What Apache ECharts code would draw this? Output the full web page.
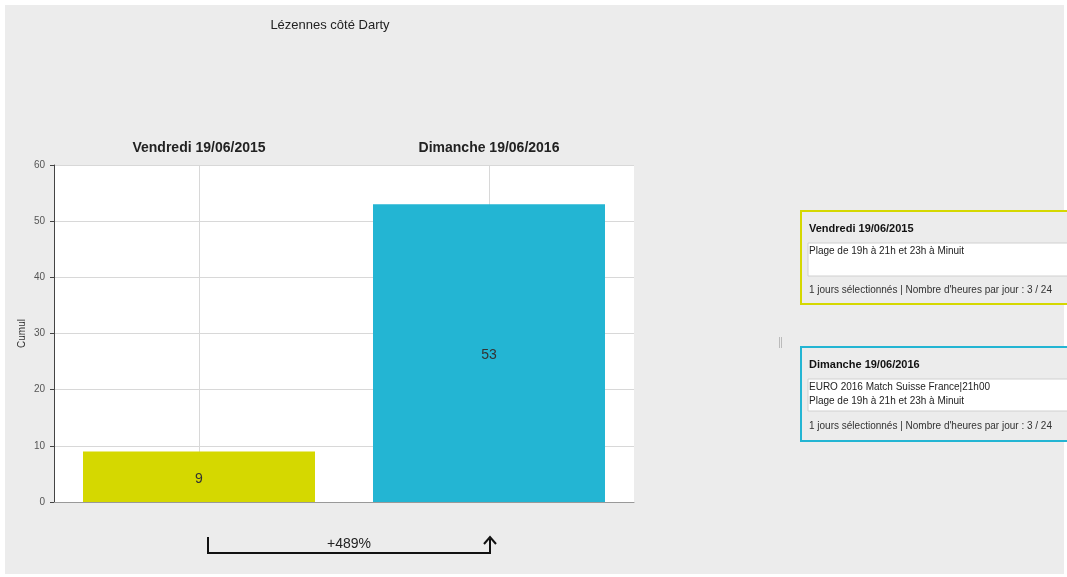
<!DOCTYPE html>
<html>
<head>
<meta charset="utf-8">
<script src="https://cdn.jsdelivr.net/npm/echarts@6/dist/echarts.min.js"></script>
<style>
html,body{margin:0;padding:0;background:#fff;}
#chart{width:1067px;height:577px;}
</style>
</head>
<body>
<div id="chart"></div>
<script>
// ---- data ----
const chartTitle = 'Lézennes côté Darty';
const categories = ['Vendredi 19/06/2015', 'Dimanche 19/06/2016'];
const values = [9, 53];
const yAxisName = 'Cumul';
const yTicks = [0, 10, 20, 30, 40, 50, 60];
const panelTitles = ['Vendredi 19/06/2015', 'Dimanche 19/06/2016'];
const panelNotes = [
  ['Plage de 19h à 21h et 23h à Minuit'],
  ['EURO 2016 Match Suisse France|21h00', 'Plage de 19h à 21h et 23h à Minuit']
];
const panelFooters = [
  '1 jours sélectionnés | Nombre d\'heures par jour : 3 / 24',
  '1 jours sélectionnés | Nombre d\'heures par jour : 3 / 24'
];

// ---- styles ----
const barColors = ['#d5d800', '#23b5d3'];
const FONT = '"Liberation Sans", Arial, sans-serif';

const pct = Math.round((values[1] - values[0]) / values[0] * 100);
const pctLabel = (pct >= 0 ? '+' : '') + pct + '%';

function panel(x, y, h, color, title, notes, footer, noteH) {
  const els = [];
  els.push({type: 'rect', shape: {x: x, y: y, width: 280, height: h},
    style: {fill: '#ececec', stroke: color, lineWidth: 2}});
  els.push({type: 'text', x: x + 8, y: y + 12, style: {text: title, font: 'bold 11px ' + FONT, fill: '#111'}});
  els.push({type: 'rect', shape: {x: x + 7, y: y + 32, width: 280, height: noteH},
    style: {fill: '#fff', stroke: '#d0d0d0', lineWidth: 1}});
  notes.forEach(function (t, i) {
    els.push({type: 'text', x: x + 8, y: y + 35 + i * 14, style: {text: t, font: '10px ' + FONT, fill: '#222'}});
  });
  els.push({type: 'text', x: x + 8, y: y + 74, style: {text: footer, font: '10px ' + FONT, fill: '#333'}});
  return els;
}

const chart = echarts.init(document.getElementById('chart'), null, {renderer: 'canvas'});

const graphics = [
  {type: 'rect', z: -100, shape: {x: 5, y: 5, width: 1059, height: 569}, style: {fill: '#ececec'}},
  // bracket arrow
  {type: 'polyline', shape: {points: [[208, 537], [208, 553], [490, 553], [490, 539]]},
    style: {stroke: '#111', lineWidth: 2, fill: null}},
  {type: 'polyline', shape: {points: [[484, 544], [490, 537], [496, 544]]},
    style: {stroke: '#111', lineWidth: 2, fill: null}},
  {type: 'text', x: 349, y: 544, style: {text: pctLabel, font: '14px ' + FONT, fill: '#222', align: 'center', verticalAlign: 'middle'}},
  // separator marks
  {type: 'rect', shape: {x: 779, y: 337, width: 1, height: 11}, style: {fill: '#bbb'}},
  {type: 'rect', shape: {x: 781, y: 337, width: 1, height: 11}, style: {fill: '#bbb'}}
].concat(
  panel(801, 211, 93, barColors[0], panelTitles[0], panelNotes[0], panelFooters[0], 33),
  panel(801, 347, 94, barColors[1], panelTitles[1], panelNotes[1], panelFooters[1], 32)
);

chart.setOption({
  animation: false,
  backgroundColor: '#fff',
  title: {
    text: chartTitle, left: 325, top: 14, textAlign: 'center',
    textStyle: {fontFamily: FONT, fontSize: 13, fontWeight: 'normal', color: '#222'}
  },
  grid: {left: 54, right: 433, top: 165, bottom: 75, show: true, backgroundColor: '#fff', borderWidth: 0},
  xAxis: [{
    type: 'category', data: categories, position: 'top',
    axisLine: {show: false}, axisTick: {show: false},
    axisLabel: {fontFamily: FONT, fontSize: 14, fontWeight: 'bold', color: '#222', margin: 10},
    splitLine: {show: true, alignWithLabel: true, lineStyle: {color: '#d8d8d8', width: 1}}
  }, {
    type: 'category', data: categories, position: 'bottom',
    axisLine: {show: true, lineStyle: {color: '#999', width: 1}},
    axisTick: {show: false}, axisLabel: {show: false}, splitLine: {show: false}
  }],
  yAxis: {
    type: 'value', min: yTicks[0], max: yTicks[yTicks.length - 1], interval: 10,
    name: yAxisName, nameLocation: 'middle', nameGap: 27, nameRotate: 90, nameMoveOverlap: false,
    nameTextStyle: {fontFamily: FONT, fontSize: 10, color: '#333'},
    axisLine: {show: true, lineStyle: {color: '#444', width: 1}},
    axisTick: {show: true, length: 4, lineStyle: {color: '#444'}},
    axisLabel: {fontFamily: FONT, fontSize: 10, color: '#555', margin: 9},
    splitLine: {show: true, lineStyle: {color: '#d8d8d8', width: 1}}
  },
  series: [{
    type: 'bar', xAxisIndex: 0,
    data: values.map(function (v, i) { return {value: v, itemStyle: {color: barColors[i]}}; }),
    barWidth: '80%',
    label: {show: true, position: 'inside', offset: [0, 2], fontFamily: FONT, fontSize: 14, color: '#333'}
  }],
  graphic: {elements: graphics}
});
</script>
</body>
</html>
